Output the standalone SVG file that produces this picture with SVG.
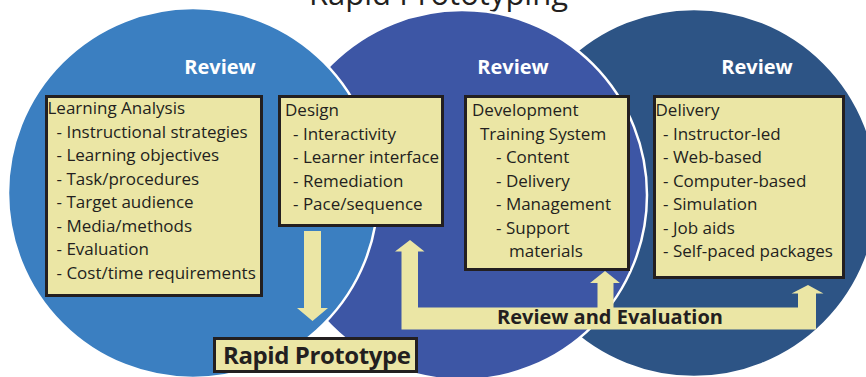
<svg xmlns="http://www.w3.org/2000/svg" width="866" height="377" viewBox="0 0 866 377">
<style>
.circle{stroke:#ffffff;stroke-width:2.5}
.c1{fill:#3b7fc1}
.c2{fill:#3d56a5}
.c3{fill:#2d5485}
.box{fill:#ebe6a5;stroke:#231f20;stroke-width:3}
.t{font-family:"Open Sans","Noto Sans","Liberation Sans",sans-serif;font-size:17px;fill:#231f20}
.rev{font-family:"Open Sans","Noto Sans","Liberation Sans",sans-serif;font-size:20px;font-weight:bold;fill:#ffffff;text-anchor:middle}
.lbl{font-family:"Open Sans","Noto Sans","Liberation Sans",sans-serif;font-weight:bold;fill:#231f20}
.title{font-family:"Open Sans","Noto Sans","Liberation Sans",sans-serif;font-size:31px;fill:#231f20;text-anchor:middle}
.arrow{fill:#ebe6a5}
</style>
<rect width="866" height="377" fill="#ffffff"/>
<text class="title" x="438.5" y="5">Rapid Prototyping</text>
<g id="phases">
  <circle class="circle c3" cx="694" cy="193" r="184"/>
  <circle class="circle c2" cx="462" cy="195" r="185"/>
  <circle class="circle c1" cx="193" cy="193" r="185"/>
  <text class="rev" x="220" y="74">Review</text>
  <text class="rev" x="513" y="74">Review</text>
  <text class="rev" x="757" y="74">Review</text>
</g>
<g id="connectors">
  <polygon class="arrow" points="304,231 321,231 321,308 328,308 312.5,321 297,308 304,308"/>
  <polygon class="arrow" points="410,240 424.5,251.5 418,251.5 418,307.5 597.5,307.5 597.5,283 590,283 605,271 620,283 613.5,283 613.5,307.5 798,307.5 798,293.5 791.5,293.5 808,285 823.5,293.5 816,293.5 816,329.5 401.5,329.5 401.5,251.5 395,251.5"/>
  <text class="lbl" x="497" y="324" font-size="20" textLength="226">Review and Evaluation</text>
</g>
<g id="learning-analysis">
  <rect class="box" x="46.5" y="96.5" width="215" height="199"/>
  <text class="t" x="47.5" y="114">Learning Analysis</text>
  <text class="t" x="56.5" y="137.5">- Instructional strategies</text>
  <text class="t" x="56.5" y="161">- Learning objectives</text>
  <text class="t" x="56.5" y="184.5">- Task/procedures</text>
  <text class="t" x="56.5" y="208">- Target audience</text>
  <text class="t" x="56.5" y="231.5">- Media/methods</text>
  <text class="t" x="56.5" y="255">- Evaluation</text>
  <text class="t" x="56.5" y="278.5">- Cost/time requirements</text>
</g>
<g id="design">
  <rect class="box" x="279.5" y="96.5" width="163" height="129"/>
  <text class="t" x="285" y="116">Design</text>
  <text class="t" x="293" y="139.5">- Interactivity</text>
  <text class="t" x="293" y="163">- Learner interface</text>
  <text class="t" x="293" y="186.5">- Remediation</text>
  <text class="t" x="293" y="210">- Pace/sequence</text>
</g>
<g id="development">
  <rect class="box" x="465.5" y="96.5" width="163" height="173"/>
  <text class="t" x="472" y="116">Development</text>
  <text class="t" x="480" y="139.5">Training System</text>
  <text class="t" x="496" y="163">- Content</text>
  <text class="t" x="496" y="186.5">- Delivery</text>
  <text class="t" x="496" y="210">- Management</text>
  <text class="t" x="496" y="233.5">- Support</text>
  <text class="t" x="509" y="257">materials</text>
</g>
<g id="delivery">
  <rect class="box" x="654.5" y="96.5" width="189" height="181"/>
  <text class="t" x="655.5" y="116">Delivery</text>
  <text class="t" x="663" y="139.5">- Instructor-led</text>
  <text class="t" x="663" y="163">- Web-based</text>
  <text class="t" x="663" y="186.5">- Computer-based</text>
  <text class="t" x="663" y="210">- Simulation</text>
  <text class="t" x="663" y="233.5">- Job aids</text>
  <text class="t" x="663" y="257">- Self-paced packages</text>
</g>
<g id="rapid-prototype">
  <rect class="box" x="214.5" y="338.5" width="202" height="33"/>
  <text class="lbl" x="223" y="364" font-size="24" textLength="188">Rapid Prototype</text>
</g>
</svg>
